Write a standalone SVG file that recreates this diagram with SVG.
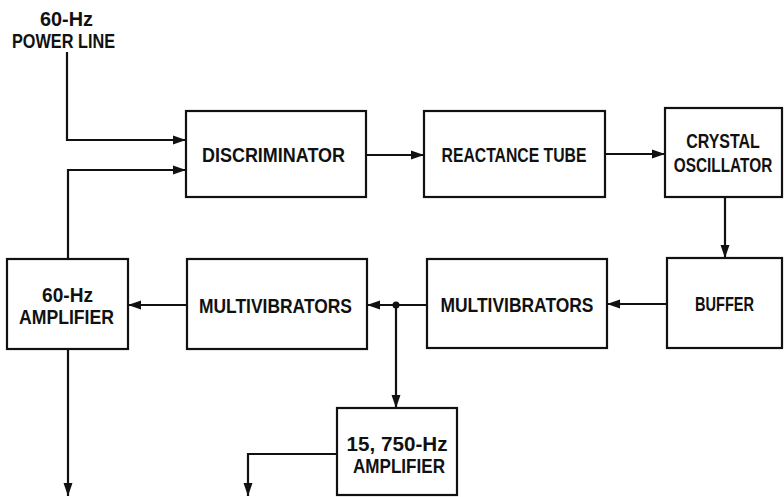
<svg xmlns="http://www.w3.org/2000/svg" width="784" height="497" viewBox="0 0 784 497">
<style>
.box{fill:#fff;stroke:#111;stroke-width:2.2}
.ln{fill:none;stroke:#111;stroke-width:2.2}
text{font-family:"Liberation Sans",Arial,sans-serif;font-weight:bold;font-size:20.5px;fill:#111;text-anchor:middle}
</style>
<defs>
<marker id="ah" markerUnits="userSpaceOnUse" markerWidth="14" markerHeight="10" refX="13" refY="5" orient="auto">
<path d="M0,0.5 L13,5 L0,9.5 z" fill="#111"/>
</marker>
</defs>
<rect width="784" height="497" fill="#fff"/>
<g id="power-line">
<text x="66.5" y="26" textLength="53" lengthAdjust="spacingAndGlyphs">60-Hz</text>
<text x="63.5" y="48" textLength="103" lengthAdjust="spacingAndGlyphs">POWER LINE</text>
</g>
<g id="connectors">
<path class="ln" d="M67 52 V140 H186" marker-end="url(#ah)"/>
<path class="ln" d="M68 259 V170 H186" marker-end="url(#ah)"/>
<path class="ln" d="M366 155 H424" marker-end="url(#ah)"/>
<path class="ln" d="M605 154 H665" marker-end="url(#ah)"/>
<path class="ln" d="M725 197 V258" marker-end="url(#ah)"/>
<path class="ln" d="M667 304 H607" marker-end="url(#ah)"/>
<path class="ln" d="M427 305 H367" marker-end="url(#ah)"/>
<path class="ln" d="M187 305 H128" marker-end="url(#ah)"/>
<path class="ln" d="M396 305 V408" marker-end="url(#ah)"/>
<path class="ln" d="M337 454 H248 V496" marker-end="url(#ah)"/>
<path class="ln" d="M68 349 V496" marker-end="url(#ah)"/>
<circle cx="396" cy="305" r="3.5" fill="#111"/>
</g>
<g id="discriminator">
<rect class="box" x="186" y="111" width="180" height="86"/>
<text x="273.5" y="162" textLength="143" lengthAdjust="spacingAndGlyphs">DISCRIMINATOR</text>
</g>
<g id="reactance-tube">
<rect class="box" x="424" y="111" width="181" height="86"/>
<text x="514" y="162" textLength="145" lengthAdjust="spacingAndGlyphs">REACTANCE TUBE</text>
</g>
<g id="crystal-oscillator">
<rect class="box" x="665" y="108" width="117" height="89"/>
<text transform="translate(723 148) scale(0.78 1)" x="0" y="0">CRYSTAL</text>
<text transform="translate(723 172) scale(0.75 1)" x="0" y="0">OSCILLATOR</text>
</g>
<g id="buffer">
<rect class="box" x="667" y="258" width="115" height="90"/>
<text x="724.5" y="311" textLength="59" lengthAdjust="spacingAndGlyphs">BUFFER</text>
</g>
<g id="multivibrators-2">
<rect class="box" x="427" y="259" width="180" height="89"/>
<text x="517" y="312" textLength="153" lengthAdjust="spacingAndGlyphs">MULTIVIBRATORS</text>
</g>
<g id="multivibrators-1">
<rect class="box" x="187" y="259" width="180" height="90"/>
<text x="275.5" y="313" textLength="153" lengthAdjust="spacingAndGlyphs">MULTIVIBRATORS</text>
</g>
<g id="amp-60hz">
<rect class="box" x="7" y="259" width="121" height="90"/>
<text x="67.5" y="302" textLength="51" lengthAdjust="spacingAndGlyphs">60-Hz</text>
<text x="66.5" y="324" textLength="95" lengthAdjust="spacingAndGlyphs">AMPLIFIER</text>
</g>
<g id="amp-15750hz">
<rect class="box" x="337" y="408" width="120" height="87"/>
<text x="397" y="451" textLength="101" lengthAdjust="spacingAndGlyphs">15, 750-Hz</text>
<text x="399" y="473" textLength="92" lengthAdjust="spacingAndGlyphs">AMPLIFIER</text>
</g>
</svg>
